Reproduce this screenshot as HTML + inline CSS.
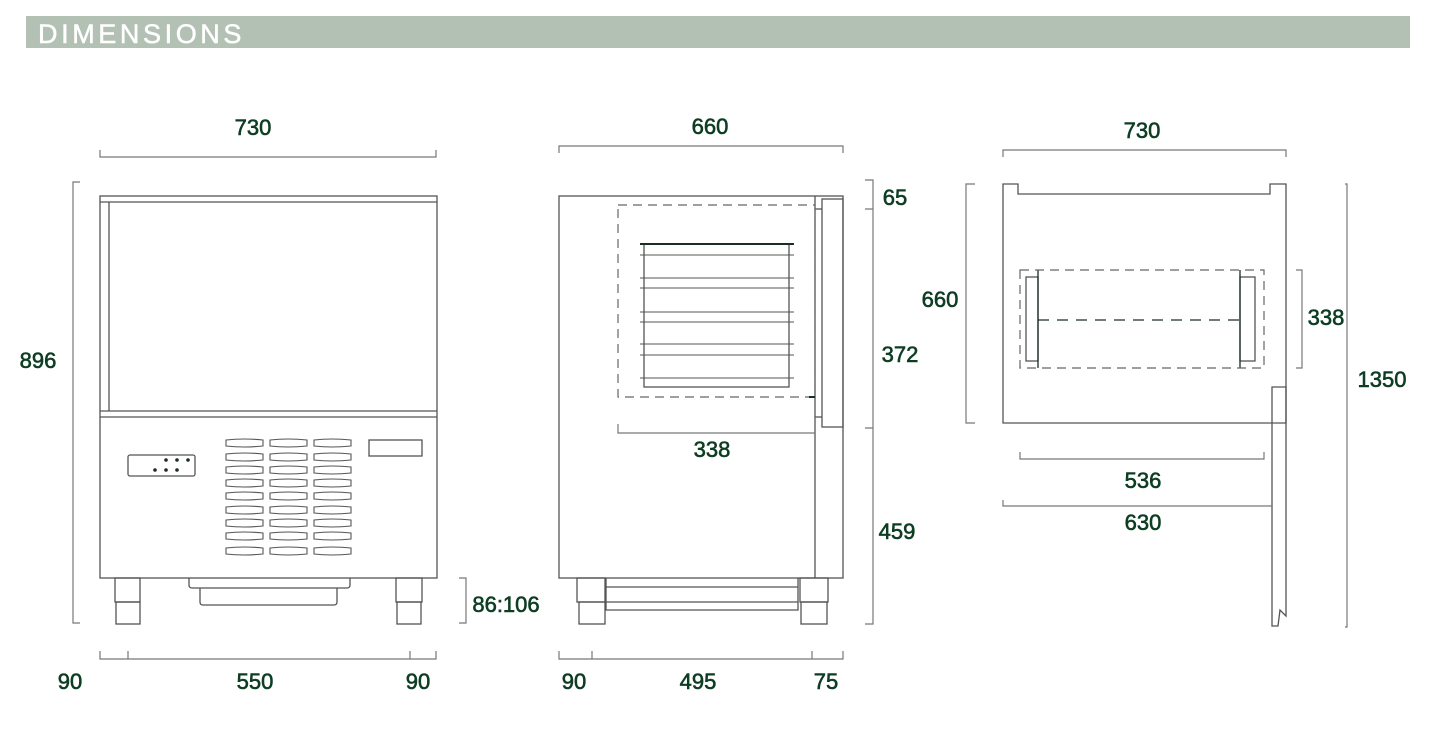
<!DOCTYPE html>
<html><head><meta charset="utf-8"><style>
html,body{margin:0;padding:0;background:#fff;width:1437px;height:739px;overflow:hidden}
</style></head><body>
<svg width="1437" height="739" viewBox="0 0 1437 739" xmlns="http://www.w3.org/2000/svg" style="display:block">
<rect x="26" y="16" width="1384" height="32" fill="#b3c0b4"/>
<text x="38" y="43" font-family="Liberation Sans, sans-serif" font-size="27" fill="#fff" stroke="#fff" stroke-width="0.5" letter-spacing="3.6">DIMENSIONS</text>

<g fill="none" stroke="#555" stroke-width="1.3">
<rect x="100" y="196" width="337" height="382"/>
<line x1="100" y1="202" x2="437" y2="202"/>
<line x1="109" y1="202" x2="109" y2="411"/>
<line x1="100" y1="411" x2="437" y2="411"/>
<line x1="100" y1="417" x2="437" y2="417"/>
<rect x="115" y="578" width="25" height="24"/>
<rect x="116" y="602" width="24" height="22"/>
<rect x="396" y="578" width="26" height="24"/>
<rect x="397" y="602" width="24" height="22"/>
<path d="M189 578 V585 Q189 588 192 588 H347 Q350 588 350 585 V578"/>
<path d="M200 588 V602 Q200 605 203 605 H334 Q337 605 337 602 V588"/>
<rect x="128" y="455" width="67" height="21" rx="2"/>
<rect x="369" y="440" width="53" height="16"/>
</g>
<g fill="#1a2e22">
<circle cx="166" cy="460" r="1.8"/><circle cx="177" cy="460" r="1.8"/><circle cx="188" cy="460" r="1.8"/>
<circle cx="155" cy="470" r="1.8"/><circle cx="166" cy="470" r="1.8"/><circle cx="177" cy="470" r="1.8"/>
</g>
<g fill="none" stroke="#555" stroke-width="1.1">
<g id="vc">
<path d="M226 440 Q244 438 263 440 V446 Q244 448 226 446 Z"/>
<path d="M226 454 Q244 452 263 454 V460 Q244 462 226 460 Z"/>
<path d="M226 467 Q244 465 263 467 V473 Q244 475 226 473 Z"/>
<path d="M226 480 Q244 478 263 480 V486 Q244 488 226 486 Z"/>
<path d="M226 493 Q244 491 263 493 V499 Q244 501 226 499 Z"/>
<path d="M226 507 Q244 505 263 507 V513 Q244 515 226 513 Z"/>
<path d="M226 520 Q244 518 263 520 V526 Q244 528 226 526 Z"/>
<path d="M226 533 Q244 531 263 533 V539 Q244 541 226 539 Z"/>
<path d="M226 548 Q244 546 263 548 V554 Q244 556 226 554 Z"/>
</g>
<use href="#vc" x="44"/>
<use href="#vc" x="88"/>
</g>
<g fill="none" stroke="#777" stroke-width="1.2">
<path d="M100 150 V157 H436 V150"/>
<path d="M80 182 H73 V623 H80"/>
<path d="M459 578 H466 V623 H459"/>
<path d="M100 651 V659 H436 V651 M128 651 V659 M410 651 V659"/>
</g>

<g fill="none" stroke="#555" stroke-width="1.3">
<rect x="559" y="196" width="284" height="382"/>
<line x1="815" y1="196" x2="815" y2="578"/>
<rect x="822" y="199" width="21" height="228"/>
<line x1="815" y1="209" x2="822" y2="209"/>
<line x1="815" y1="417" x2="822" y2="417"/>
<rect x="644" y="244" width="145" height="143"/>
<line x1="640" y1="244" x2="794" y2="244" stroke="#1a2e22" stroke-width="2"/>
<path d="M640 255H794M640 278H794M640 288H794M640 312H794M640 322H794M640 344H794M640 355H794M640 378H794" stroke-width="1.1"/>
<rect x="577" y="578" width="28" height="24"/>
<rect x="579" y="602" width="26" height="22"/>
<rect x="800" y="578" width="28" height="24"/>
<rect x="801" y="602" width="26" height="22"/>
<path d="M606 578 V610 H798 V578 M606 587 H798 M606 602 H798"/>
</g>
<rect x="618" y="205" width="197" height="192" fill="none" stroke="#666" stroke-width="1.2" stroke-dasharray="9,6"/>
<line x1="809" y1="397" x2="815" y2="397" stroke="#1a2e22" stroke-width="2"/>
<g fill="none" stroke="#777" stroke-width="1.2">
<path d="M618 424 V433 H815"/>
<path d="M559 153 V146 H843 V153"/>
<path d="M865 180 H873 V624 H865 M865 209 H873 M865 428 H873"/>
<path d="M559 651 V659 H843 V651 M592 651 V659 M812 651 V659"/>
</g>

<g fill="none" stroke="#555" stroke-width="1.3">
<path d="M1003 184 H1018 V194 H1270 V184 H1286 V423 H1003 Z"/>
<path d="M1272 423 V387 H1286 V423 V616 L1280 610 L1278 626 H1272 V423"/>
<rect x="1026" y="277" width="12" height="84"/>
<rect x="1240" y="277" width="15" height="84"/>
<line x1="1038" y1="270" x2="1038" y2="368" stroke="#1a2e22"/>
<line x1="1240" y1="270" x2="1240" y2="368" stroke="#1a2e22"/>
</g>
<rect x="1020" y="270" width="244" height="98" fill="none" stroke="#666" stroke-width="1.2" stroke-dasharray="9,6"/>
<line x1="1038" y1="320" x2="1240" y2="320" stroke="#1a2e22" stroke-width="1.2" stroke-dasharray="11,8"/>
<g fill="none" stroke="#777" stroke-width="1.2">
<path d="M1003 157 V150 H1286 V157"/>
<path d="M975 184 H966 V423 H975"/>
<path d="M1296 270 H1302 V368 H1296"/>
<path d="M1345 184 H1347 V627 H1345"/>
<path d="M1020 452 V459 H1264 V452"/>
<path d="M1003 500 V506 H1272"/>
</g>

<g font-family="Liberation Sans, sans-serif" font-size="22" fill="#0d3d22" stroke="#0d3d22" stroke-width="0.6" text-anchor="middle">
<text x="253" y="135">730</text>
<text x="38" y="368">896</text>
<text x="506" y="612">86:106</text>
<text x="70" y="689">90</text>
<text x="255" y="689">550</text>
<text x="418" y="689">90</text>
<text x="710" y="134">660</text>
<text x="895" y="205">65</text>
<text x="900" y="362">372</text>
<text x="897" y="539">459</text>
<text x="712" y="457">338</text>
<text x="574" y="689">90</text>
<text x="698" y="689">495</text>
<text x="826" y="689">75</text>
<text x="1142" y="138">730</text>
<text x="940" y="307">660</text>
<text x="1326" y="325">338</text>
<text x="1382" y="387">1350</text>
<text x="1143" y="488">536</text>
<text x="1143" y="530">630</text>
</g>
</svg>
</body></html>
